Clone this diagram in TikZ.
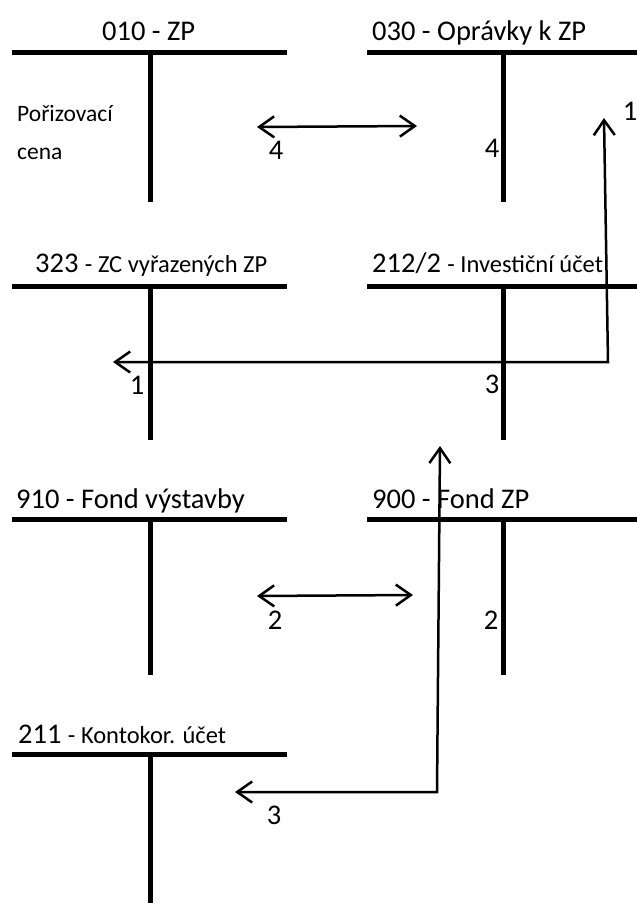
\documentclass[tikz,border=0pt]{standalone}
\usepackage{fontspec}
\setmainfont{Carlito}
\usetikzlibrary{arrows.meta}
\newcommand{\Lf}{\fontsize{28.5pt}{32pt}\selectfont}
\newcommand{\Sf}{\fontsize{23.5pt}{26pt}\selectfont}
\newcommand{\Tf}{\fontsize{24.5pt}{27pt}\selectfont}
\tikzset{
  tbar/.style={line width=5pt},
  flowboth/.style={line width=2.5pt, line join=miter,
    arrows={Straight Barb[length=15pt,width=21pt]-Straight Barb[length=15pt,width=21pt]}},
  title/.style={anchor=base west, inner sep=0pt, font=\Lf},
  small/.style={anchor=base west, inner sep=0pt, font=\Sf},
  lab/.style={inner sep=0pt, font=\Lf},
}
\begin{document}
\begin{tikzpicture}[x=1pt,y=-1pt]
\useasboundingbox (0,0) rectangle (637,905);
\fill[white] (0,0) rectangle (637,905);

% ---- T accounts: bars and stems
% row 1
\coordinate (t1l) at (12,52);  \coordinate (t1r) at (287,52);
\coordinate (t1s) at (150,52); \coordinate (t1e) at (150,202);
\coordinate (t2l) at (367,52); \coordinate (t2r) at (637,52);
\coordinate (t2s) at (503,52); \coordinate (t2e) at (503,202);
% row 2
\coordinate (t3l) at (12,286);  \coordinate (t3r) at (287,286);
\coordinate (t3s) at (150,286); \coordinate (t3e) at (150,440);
\coordinate (t4l) at (367,286); \coordinate (t4r) at (637,286);
\coordinate (t4s) at (503,286); \coordinate (t4e) at (503,440);
% row 3
\coordinate (t5l) at (12,519);  \coordinate (t5r) at (287,519);
\coordinate (t5s) at (150,519); \coordinate (t5e) at (150,675);
\coordinate (t6l) at (367,519); \coordinate (t6r) at (637,519);
\coordinate (t6s) at (503,519); \coordinate (t6e) at (503,675);
% row 4
\coordinate (t7l) at (12,754);  \coordinate (t7r) at (287,754);
\coordinate (t7s) at (150,754); \coordinate (t7e) at (150,903);

\foreach \k in {1,...,7}{
  \draw[tbar] (t\k l) -- (t\k r);
  \draw[tbar] (t\k s) -- (t\k e);
}

% ---- titles
\node[title] (h1) at (102,40) {010 - ZP};
\node[title] (h2) at (372,40) {030 - Oprávky k ZP};
\node[title] (h3) at (35,272) {323 \Tf- ZC vyřazených ZP};
\node[title] (h4) at (372,272) {212/2 \Tf- Investiční účet};
\node[title] (h5) at (16,508) {910 - Fond výstavby};
\node[title] (h6) at (372,508) {900 - Fond ZP};
\node[title] (h7) at (18,743) {211 \Tf- Kontokor. účet};

\node[small] (pc1) at (17,121) {Pořizovací};
\node[small] (pc2) at (17,159) {cena};

% ---- flows
% 4
\coordinate (a4l) at (257,127);
\coordinate (a4r) at (417,126);
\draw[flowboth] (a4l) -- (a4r);
\node[lab] (n4a) at (276,150) {4};
\node[lab] (n4b) at (492,148) {4};

% 1
\coordinate (a1t) at (604,118);
\coordinate (a1c) at (608,362);
\coordinate (a1l) at (113,362);
\draw[flowboth] (a1l) -- (a1c) -- (a1t);
\node[lab] (n1a) at (630,111) {1};
\node[lab] (n1b) at (137,385) {1};

% 3
\node[lab] (n3a) at (492,384) {3};
\coordinate (a3t) at (440,446);
\coordinate (a3c) at (437,792);
\coordinate (a3l) at (235,792);
\draw[flowboth] (a3l) -- (a3c) -- (a3t);
\node[lab] (n3b) at (274,815) {3};

% 2
\coordinate (a2l) at (257,596);
\coordinate (a2r) at (413,595);
\draw[flowboth] (a2l) -- (a2r);
\node[lab] (n2a) at (275,620) {2};
\node[lab] (n2b) at (491,620) {2};
\end{tikzpicture}
\end{document}
